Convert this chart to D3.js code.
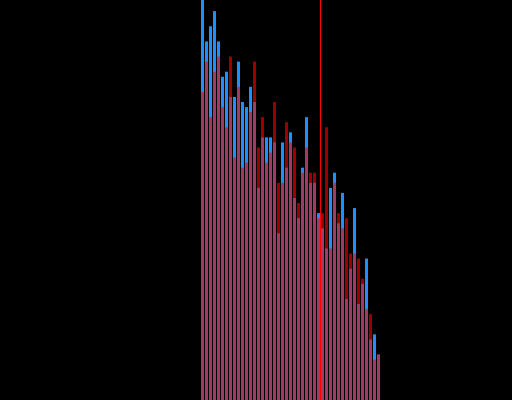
<!DOCTYPE html>
<html>
<head>
<meta charset="utf-8">
<script src="https://cdn.jsdelivr.net/npm/d3@7"></script>
<style>
  html, body { margin: 0; padding: 0; background: #000; overflow: hidden; }
</style>
</head>
<body>
<div id="chart"></div>
<script>
var width = 512;
var height = 400;

// counts per bin
var blueCounts = [82,71,74,77,71,64,65,60,60,67,59,58,62,59,42,52,52,52,51,33,51,46,53,40,36,46,56,43,43,37,34,30,42,45,35,41,20,26,38,19,23,28,12,13,9];
var redCounts  = [61,67,56,65,68,58,54,68,48,62,46,47,57,67,50,56,47,49,59,43,43,55,51,50,39,45,50,45,45,36,37,54,30,43,37,34,36,29,29,28,24,18,17,8,9];
var markerBin = 30;

var svg = d3.select('#chart').append('svg')
                .attr('width', width)
                .attr('height', height)
                .style('display', 'block')
                .style('background', '#000');

var x = d3.scaleLinear()
            .domain([0, blueCounts.length])
            .range([200, 380]);

var y = d3.scaleLinear()
            .domain([0, 79.2])
            .range([height, 0]);

var drawBars = function(data, cls, fill, opacity){
    svg.append('g')
        .attr('class', cls)
        .selectAll('rect')
        .data(data)
        .enter()
        .append('rect')
        .attr('x', function(d,i){ return x(i) + 1; })
        .attr('width', function(d,i){ return x(i+1) - x(i) - 1; })
        .attr('y', function(d){ return y(d); })
        .attr('height', function(d){ return height - y(d); })
        .attr('fill', fill)
        .attr('fill-opacity', opacity);
};

drawBars(blueCounts, 'blue', '#1e90ff', 1);
drawBars(redCounts, 'red', '#ff0000', 0.6);

svg.append('line')
    .attr('x1', x(markerBin) + 0.5)
    .attr('x2', x(markerBin) + 0.5)
    .attr('y1', 0)
    .attr('y2', height)
    .attr('stroke', '#ff0000')
    .attr('stroke-width', 1);
</script>
</body>
</html>
